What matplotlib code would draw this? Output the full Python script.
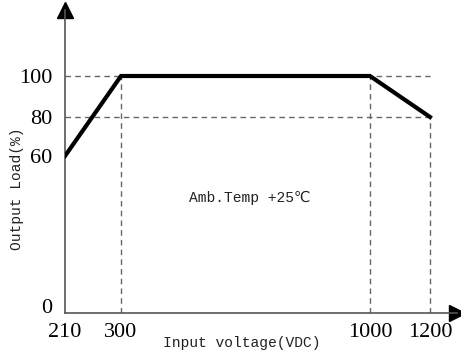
import numpy as np
import matplotlib
matplotlib.use("Agg")
import matplotlib.pyplot as plt
from matplotlib.transforms import ScaledTranslation

# derating curve
voltage = [210, 300, 1000, 1200]
load = [60, 100, 100, 80]

x_ticks = [210, 300, 1000, 1200]
y_ticks = [0, 60, 80, 100]

# piecewise axis (the original drawing is not to scale)
x_anchor = [210, 300, 1000, 1200, 1400]
x_pos = [0, 56, 305, 365, 425]
y_anchor = [0, 60, 80, 100, 150]
y_pos = [0, 157, 196, 237, 347]


def fwd(a, p):
    return lambda v: np.interp(v, a, p)


def inv(a, p):
    return lambda v: np.interp(v, p, a)


fig = plt.figure(figsize=(4.61, 3.54), dpi=100)
W, H = 461, 354
ax = fig.add_axes([65 / W, (H - 313) / H, 392 / W, 303 / H])
ax.set_xscale("function", functions=(fwd(x_anchor, x_pos), inv(x_anchor, x_pos)))
ax.set_yscale("function", functions=(fwd(y_anchor, y_pos), inv(y_anchor, y_pos)))
ax.set_xlim(210, 1290)
ax.set_ylim(0, 130)

serif = ["Liberation Serif", "DejaVu Serif"]
mono = ["Liberation Mono", "DejaVu Sans"]

# guide lines
dash = dict(color="#666666", lw=1, ls=(0, (4, 3)))
for yv in [100, 80]:
    ax.plot([210, 1200], [yv, yv], **dash)
for xv in [300, 1000, 1200]:
    ax.plot([xv, xv], [0, np.interp(xv, voltage, load)], **dash)

ax.plot(voltage, load, color="black", lw=3, solid_joinstyle="miter", zorder=3)

for s in ["top", "right"]:
    ax.spines[s].set_visible(False)
for s in ["left", "bottom"]:
    ax.spines[s].set_color("#555555")
    ax.spines[s].set_linewidth(1.2)
ax.plot(1, 0, ">", color="black", ms=11, transform=ax.transAxes, clip_on=False)
ax.plot(0, 1, "^", color="black", ms=11, transform=ax.transAxes, clip_on=False)

ax.set_xticks(x_ticks)
ax.set_xticklabels([str(v) for v in x_ticks], family=serif, fontsize=16)
ax.set_yticks(y_ticks)
ax.set_yticklabels([str(v) for v in y_ticks], family=serif, fontsize=16)
ax.tick_params(axis="x", length=0, pad=7)
ax.tick_params(axis="y", length=0, pad=9)

# the "0" sits a little above the x axis in the original
zero = ax.get_yticklabels()[0]
zero.set_transform(zero.get_transform() + ScaledTranslation(0, 5 / 72, fig.dpi_scale_trans))

ax.set_xlabel("Input voltage(VDC)", family=mono, fontsize=10.5, color="#222222")
ax.xaxis.set_label_coords(0.45, -0.075)
ax.set_ylabel("Output Load(%)", family=mono, fontsize=10.5, color="#222222")
ax.yaxis.set_label_coords(-0.105, 0.41)

ax.text(663, 44, "Amb.Temp +25℃", family=mono, color="#222222",
        fontsize=10.5, ha="center", va="center")

fig.savefig("out.png", dpi=100)
